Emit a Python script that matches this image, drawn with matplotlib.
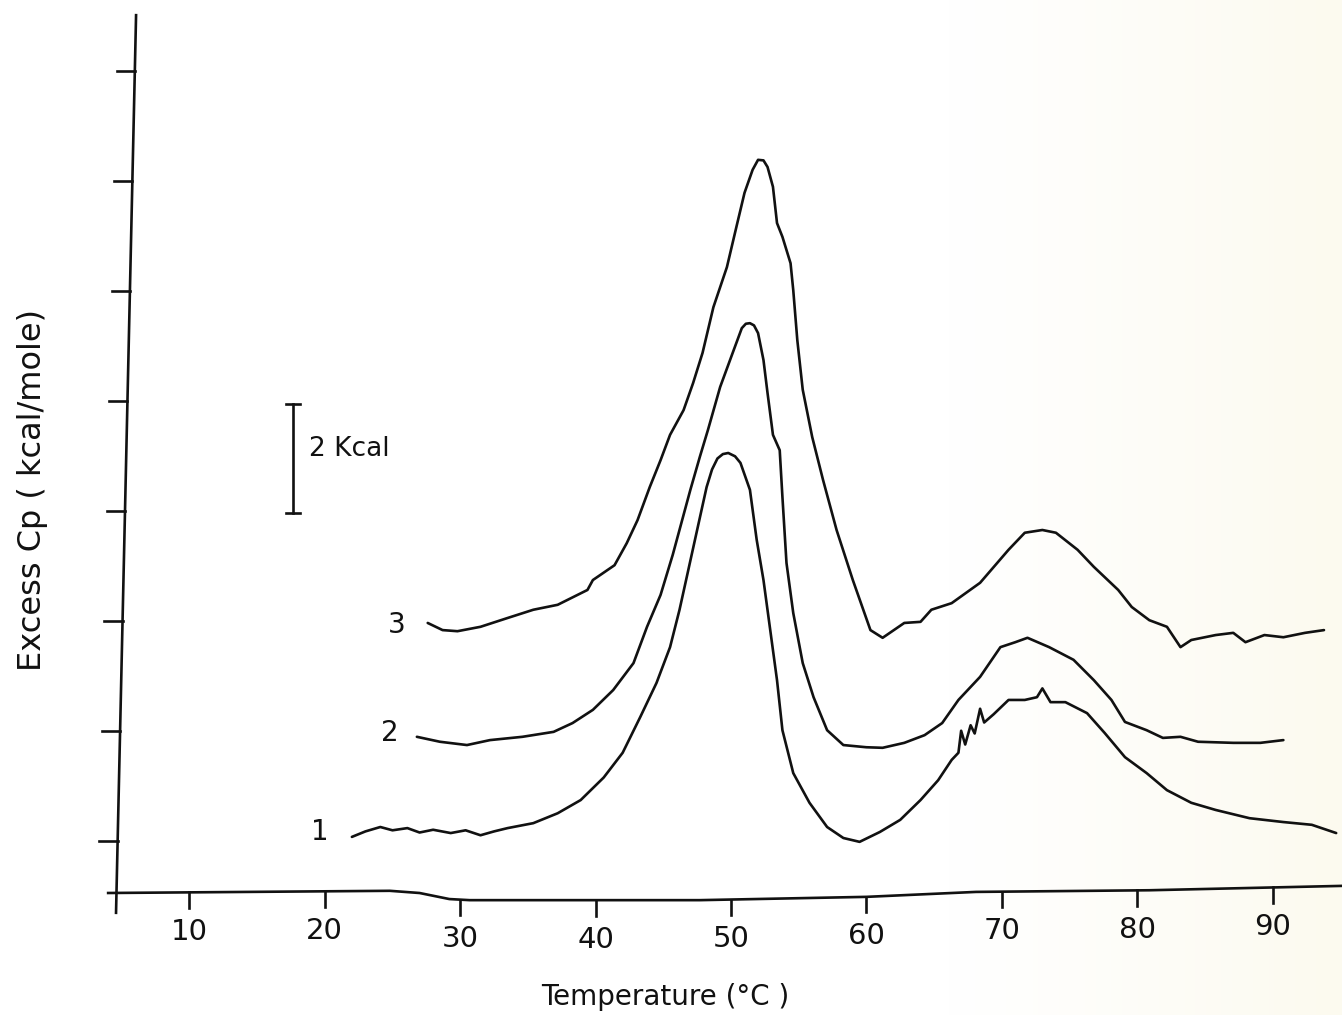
import numpy as np
import matplotlib
matplotlib.use("Agg")
import matplotlib.pyplot as plt
from matplotlib.colors import LinearSegmentedColormap

plt.rcParams["font.family"] = ["DejaVu Sans"]

# curve 1
temp1 = [22.0, 23.0, 24.1, 25.0, 26.1, 27.0, 28.0, 29.3, 30.4, 31.5, 32.5, 33.5, 35.4, 37.2, 38.9,
         40.6, 42.0, 43.3, 44.5, 45.5, 46.2, 47.5, 48.2, 48.6, 49.0, 49.4, 49.8, 50.3, 50.7, 51.4,
         51.9, 52.4, 52.9, 53.4, 53.8, 54.6, 55.8, 57.1, 58.3, 59.5, 61.0, 62.5, 64.0, 65.3, 66.3,
         66.8, 67.0, 67.3, 67.7, 68.0, 68.4, 68.7, 69.4, 70.5, 71.7, 72.6, 73.0, 73.6, 74.7, 76.3,
         77.6, 79.1, 80.7, 82.2, 84.0, 85.8, 88.3, 90.8, 92.9, 94.7]
cp1 = [1.02, 1.12, 1.20, 1.14, 1.18, 1.10, 1.15, 1.09, 1.14, 1.05, 1.12, 1.18, 1.27, 1.45, 1.69,
       2.10, 2.55, 3.20, 3.82, 4.47, 5.15, 6.60, 7.38, 7.70, 7.90, 7.98, 8.00, 7.94, 7.82, 7.33,
       6.42, 5.69, 4.78, 3.87, 2.96, 2.18, 1.64, 1.20, 1.00, 0.93, 1.11, 1.33, 1.69, 2.05, 2.42,
       2.55, 2.95, 2.70, 3.05, 2.90, 3.35, 3.10, 3.25, 3.51, 3.51, 3.56, 3.72, 3.47, 3.47, 3.27,
       2.91, 2.47, 2.18, 1.87, 1.64, 1.51, 1.36, 1.29, 1.24, 1.09]

# curve 2
temp2 = [26.8, 28.5, 30.5, 32.2, 34.6, 36.9, 38.3, 39.8, 41.3, 42.8, 43.8, 44.8, 45.7, 47.0,
         47.7, 48.3, 49.2, 50.2, 50.8, 51.1, 51.4, 51.7, 52.0, 52.4, 52.7, 53.1, 53.6, 53.8, 54.1,
         54.6, 55.3, 56.1, 57.1, 58.3, 60.0, 61.2, 62.8, 64.3, 65.6, 66.8, 68.4, 69.9, 71.0, 71.9,
         73.5, 75.3, 76.8, 78.1, 79.1, 80.7, 81.9, 83.2, 84.5, 87.1, 89.1, 90.8]
cp2 = [2.84, 2.75, 2.69, 2.78, 2.84, 2.93, 3.09, 3.33, 3.69, 4.18, 4.84, 5.42, 6.15, 7.33,
       7.93, 8.42, 9.20, 9.87, 10.27, 10.35, 10.36, 10.32, 10.18, 9.69, 9.09, 8.33, 8.05, 7.20, 6.00,
       5.09, 4.18, 3.56, 2.96, 2.69, 2.65, 2.64, 2.73, 2.87, 3.09, 3.51, 3.93, 4.47, 4.56, 4.64,
       4.47, 4.24, 3.87, 3.51, 3.11, 2.96, 2.82, 2.84, 2.75, 2.73, 2.73, 2.78]

# curve 3
temp3 = [27.6, 28.7, 29.8, 31.5, 33.5, 35.4, 37.2, 39.4, 39.8, 41.4, 42.3, 43.1, 44.0, 44.8,
         45.5, 46.5, 47.2, 47.9, 48.7, 49.7, 50.4, 51.0, 51.6, 52.0, 52.4, 52.7, 53.1, 53.4, 53.8,
         54.4, 54.6, 54.9, 55.3, 56.0, 56.8, 57.8, 59.0, 60.3, 61.2, 62.8, 64.0, 64.8, 66.3,
         68.4, 70.5, 71.7, 73.0, 74.0, 75.6, 76.8, 78.6, 79.6, 80.9, 82.2, 83.2, 84.0, 85.8,
         87.1, 88.0, 89.4, 90.8, 92.4, 93.8]
cp3 = [4.91, 4.78, 4.76, 4.84, 5.00, 5.15, 5.24, 5.51, 5.69, 5.96, 6.36, 6.78, 7.38, 7.87,
       8.33, 8.78, 9.27, 9.82, 10.65, 11.38, 12.11, 12.73, 13.15, 13.33, 13.32, 13.20, 12.84, 12.18,
       11.93, 11.45, 10.96, 10.05, 9.15, 8.29, 7.51, 6.60, 5.69, 4.78, 4.64, 4.91, 4.93, 5.15, 5.27,
       5.64, 6.24, 6.55, 6.60, 6.55, 6.24, 5.93, 5.51, 5.20, 4.96, 4.84, 4.47, 4.60, 4.69,
       4.73, 4.56, 4.69, 4.65, 4.73, 4.78]

curveLabels = ["1", "2", "3"]
xTicks = [10, 20, 30, 40, 50, 60, 70, 80, 90]
yTicks = [0.95, 2.95, 4.95, 6.95, 8.95, 10.95, 12.95, 14.95]

# hand-drawn axis: slightly wavy baseline and tilted vertical axis (scan distortion)
baseT = [3.9, 24.8, 27.0, 29.2, 30.7, 47.7, 60.0, 68.1, 80.9, 95.2]
baseY = [0.0, 0.04, 0.0, -0.11, -0.13, -0.13, -0.07, 0.02, 0.05, 0.13]

xMin, xMax = -3.99, 95.13
yMin, yMax = -2.218, 16.236

fig = plt.figure(figsize=(13.42, 10.15), dpi=100)
ax = fig.add_axes([0, 0, 1, 1])
ax.set_xlim(xMin, xMax)
ax.set_ylim(yMin, yMax)
ax.axis("off")

# faint cream tint of the scanned paper towards the right edge
paper = LinearSegmentedColormap.from_list("paper", ["#ffffff", "#ffffff", "#fcfaef"])
grad = np.linspace(0, 1, 256).reshape(1, -1) ** 2
ax.imshow(grad, extent=[xMin, xMax, yMin, yMax], aspect="auto", cmap=paper, zorder=0)

lw = 1.9
ink = "#111111"

# axes lines
ax.plot(baseT, baseY, color=ink, lw=lw, solid_capstyle="butt")
ax.plot([6.06, 4.58], [15.96, -0.36], color=ink, lw=lw)


def axisT(y):
    return 6.06 + (y - 15.96) * (4.58 - 6.06) / (-0.36 - 15.96)


for yt in yTicks:
    xa = axisT(yt)
    ax.plot([xa - 1.35, xa], [yt, yt], color=ink, lw=lw)

for xt in xTicks:
    yb = np.interp(xt, baseT, baseY)
    ax.plot([xt, xt], [yb, yb - 0.28], color=ink, lw=lw)
    ax.text(xt, yb - 0.72, str(xt), ha="center", va="center", fontsize=21, color=ink)

for t, c in [(temp1, cp1), (temp2, cp2), (temp3, cp3)]:
    ax.plot(t, c, color=ink, lw=lw, solid_joinstyle="round", solid_capstyle="round")

labelPos = [(19.65, 1.11), (24.82, 2.91), (25.33, 4.87)]
for lab, (lx, ly) in zip(curveLabels, labelPos):
    ax.text(lx, ly, lab, ha="center", va="center", fontsize=20, color=ink)

# 2 kcal scale bar
ax.plot([17.65, 17.65], [6.91, 8.89], color=ink, lw=lw)
for yy in (6.91, 8.89):
    ax.plot([17.13, 18.17], [yy, yy], color=ink, lw=lw)
ax.text(18.8, 8.07, "2 Kcal", ha="left", va="center", fontsize=19, color=ink)

ax.text(-1.6, 7.33, "Excess Cp ( kcal/mole)", rotation=90, ha="center", va="center",
        fontsize=23, color=ink)
ax.text(45.13, -1.89, "Temperature (°C )", ha="center", va="center", fontsize=20, color=ink)

fig.savefig("out.png", dpi=100, facecolor="white")
